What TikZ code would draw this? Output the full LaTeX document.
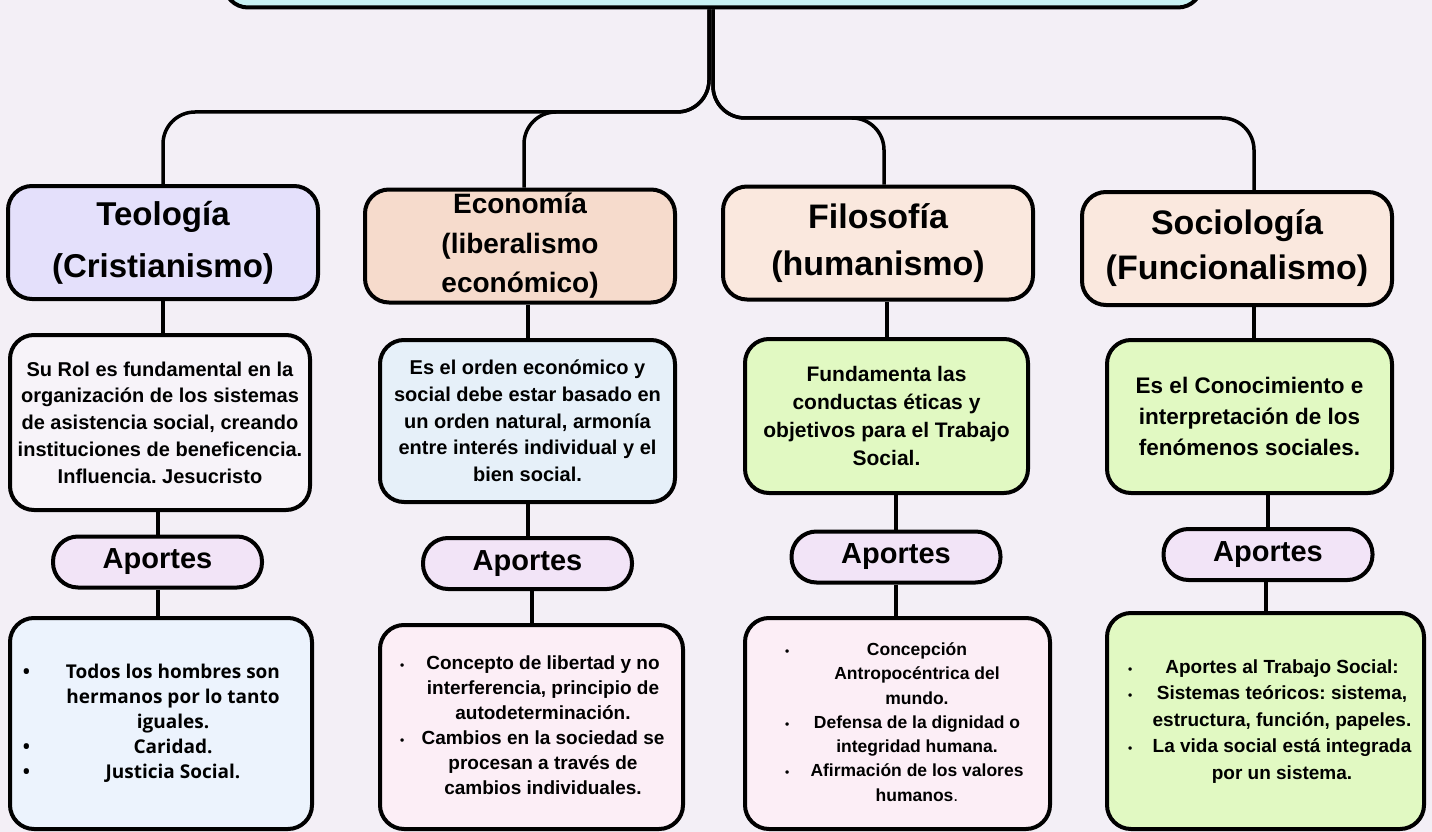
\documentclass[tikz,border=0pt]{standalone}
\usepackage{fontspec}
\setmainfont{Liberation Sans}
\newfontfamily\opensans{Open Sans}
\usepackage{array}
\usepackage{tikz}
\usetikzlibrary{positioning}
\frenchspacing
\newcolumntype{C}[1]{>{\centering\arraybackslash}p{#1}}
\newcommand{\smallbul}{{\fontsize{12}{12}\selectfont\textbullet}}
\definecolor{bgcol}{HTML}{F3EFF6}
\definecolor{rootfill}{HTML}{C8F1F3}
\definecolor{teofill}{HTML}{E4E0FB}
\definecolor{ecofill}{HTML}{F6DBCC}
\definecolor{filofill}{HTML}{FAE8DE}
\definecolor{teodfill}{HTML}{F7F3F9}
\definecolor{ecodfill}{HTML}{E6F0F9}
\definecolor{greenfill}{HTML}{E1F9C2}
\definecolor{aportfill}{HTML}{F2E4F7}
\definecolor{bluefill}{HTML}{ECF3FD}
\definecolor{pinkfill}{HTML}{FCEEF6}

\begin{document}
\begin{tikzpicture}[x=1pt, y=-1pt,
    box/.style={draw, line width=4pt, rounded corners=24pt, inner sep=0pt},
    head/.style={box, minimum width=310pt, minimum height=113pt, align=center,
        font=\bfseries\fontsize{34}{47}\selectfont},
    desc/.style={box, align=center, font=\bfseries\fontsize{20}{26.7}\selectfont},
    aport/.style={box, fill=aportfill, minimum width=209pt, minimum height=51pt,
        rounded corners=25pt, font=\bfseries\fontsize{29}{29}\selectfont},
    lista/.style={box, font=\bfseries\fontsize{19}{25}\selectfont},
    link/.style={line width=4pt},
    branch/.style={line width=3.5pt, rounded corners=32pt}]
    \useasboundingbox (0,0) rectangle (1432,832);
    \clip (0,0) rectangle (1432,832);
    \fill[bgcol] (0,0) rectangle (1432,832);

    \node[box, fill=rootfill, minimum width=978pt, minimum height=120pt] (root) at (713,-52.5) {};

    \node[head, fill=teofill, font=\bfseries\fontsize{33}{52}\selectfont] (teo) at (163,242.5)
        {Teología\\(Cristianismo)};
    \node[head, fill=ecofill, font=\bfseries\fontsize{28}{39.5}\selectfont] (eco) at (520,246)
        {Economía\\(liberalismo\\económico)};
    \node[head, fill=filofill] (filo) at (878,243) {Filosofía\\(humanismo)};
    \node[head, fill=filofill, font=\bfseries\fontsize{34}{45}\selectfont] (soc) at (1237,248.5)
        {Sociología\\(Funcionalismo)};

    \node[desc, fill=teodfill, minimum width=300pt, minimum height=175pt] (teod) at (160,422.5)
        {Su Rol es fundamental en la\\organización de los sistemas\\de asistencia social, creando\\instituciones de beneficencia.\\Influencia. Jesucristo};
    \node[desc, fill=ecodfill, minimum width=295pt, minimum height=162pt] (ecod) at (527.5,421)
        {Es el orden económico y\\social debe estar basado en\\un orden natural, armonía\\entre interés individual y el\\bien social.};
    \node[desc, fill=greenfill, minimum width=283pt, minimum height=154pt,
        font=\bfseries\fontsize{21}{28}\selectfont] (filod) at (886.5,416)
        {Fundamenta las\\conductas éticas y\\objetivos para el Trabajo\\Social.};
    \node[desc, fill=greenfill, minimum width=285pt, minimum height=153pt,
        font=\bfseries\fontsize{22.5}{31}\selectfont] (socd) at (1249.5,416.5)
        {Es el Conocimiento e\\interpretación de los\\fenómenos sociales.};

    \node[aport] (teoa) at (157.5,562) {Aportes};
    \node[aport] (ecoa) at (527.5,563.5) {Aportes};
    \node[aport] (filoa) at (896,557) {Aportes};
    \node[aport] (soca) at (1268,554.5) {Aportes};

    \node[lista, fill=bluefill, minimum width=302pt, minimum height=211pt,
        font=\opensans\bfseries\fontsize{19}{25}\selectfont] (teol) at (161,723.5) {%
        \begin{tabular}{@{\hspace{13pt}}p{27pt}@{}C{246pt}@{\hspace{16pt}}}
            \textbullet & Todos los hombres son\\
            & hermanos por lo tanto\\
            & iguales.\\
            \textbullet & Caridad.\\
            \textbullet & Justicia Social.
        \end{tabular}};
    \node[lista, fill=pinkfill, minimum width=303pt, minimum height=204pt] (ecol) at (531.5,727) {%
        \begin{tabular}{@{\hspace{20pt}}p{18pt}@{}C{250pt}@{\hspace{15pt}}}
            \smallbul & Concepto de libertad y no\\
            & interferencia, principio de\\
            & autodeterminación.\\
            \smallbul & Cambios en la sociedad se\\
            & procesan a través de\\
            & cambios individuales.
        \end{tabular}};
    \node[lista, fill=pinkfill, minimum width=305pt, minimum height=211pt,
        font=\bfseries\fontsize{17.5}{24.3}\selectfont] (filol) at (897.5,723.5) {%
        \begin{tabular}{@{\hspace{40pt}}p{20pt}@{}C{224pt}@{\hspace{21pt}}}
            \smallbul & Concepción\\
            & Antropocéntrica del\\
            & mundo.\\
            \smallbul & Defensa de la dignidad o\\
            & integridad humana.\\
            \smallbul & Afirmación de los valores\\
            & humanos{\mdseries.}
        \end{tabular}};
    \node[lista, fill=greenfill, minimum width=317pt, minimum height=216pt,
        font=\bfseries\fontsize{19}{26.5}\selectfont] (socl) at (1265.5,721) {%
        \begin{tabular}{@{\hspace{21pt}}p{22pt}@{}C{264pt}@{\hspace{10pt}}}
            \smallbul & Aportes al Trabajo Social:\\
            \smallbul & Sistemas teóricos: sistema,\\
            & estructura, función, papeles.\\
            \smallbul & La vida social está integrada\\
            & por un sistema.
        \end{tabular}};

    \draw[branch] ([xshift=-4pt]root.south) -- ++(0,102.5) -| (teo.north);
    \draw[branch] ([xshift=-4pt]root.south) -- ++(0,102.5) -| ([xshift=4pt]eco.north);
    \draw[branch] ([xshift=0pt]root.south) -- ++(0,108.5) -| ([xshift=6pt]filo.north);
    \draw[branch] ([xshift=0pt]root.south) -- ++(0,108.5) -| ([xshift=17pt]soc.north);

    \draw[link] (teo.south) -- (teo.south |- teod.north)
        (teoa.north) -- (teoa.north |- teod.south)
        (teoa.south) -- (teoa.south |- teol.north);
    \draw[link] (ecod.north) -- (ecod.north |- eco.south)
        (ecoa.north) -- (ecoa.north |- ecod.south)
        (ecol.north) -- (ecol.north |- ecoa.south);
    \draw[link] (filod.north) -- (filod.north |- filo.south)
        (filoa.north) -- (filoa.north |- filod.south)
        (filoa.south) -- (filoa.south |- filol.north);
    \draw[link] ([xshift=17pt]soc.south) -- ([xshift=17pt]soc.south |- socd.north)
        (soca.north) -- (soca.north |- socd.south)
        (socl.north) -- (socl.north |- soca.south);
\end{tikzpicture}
\end{document}
